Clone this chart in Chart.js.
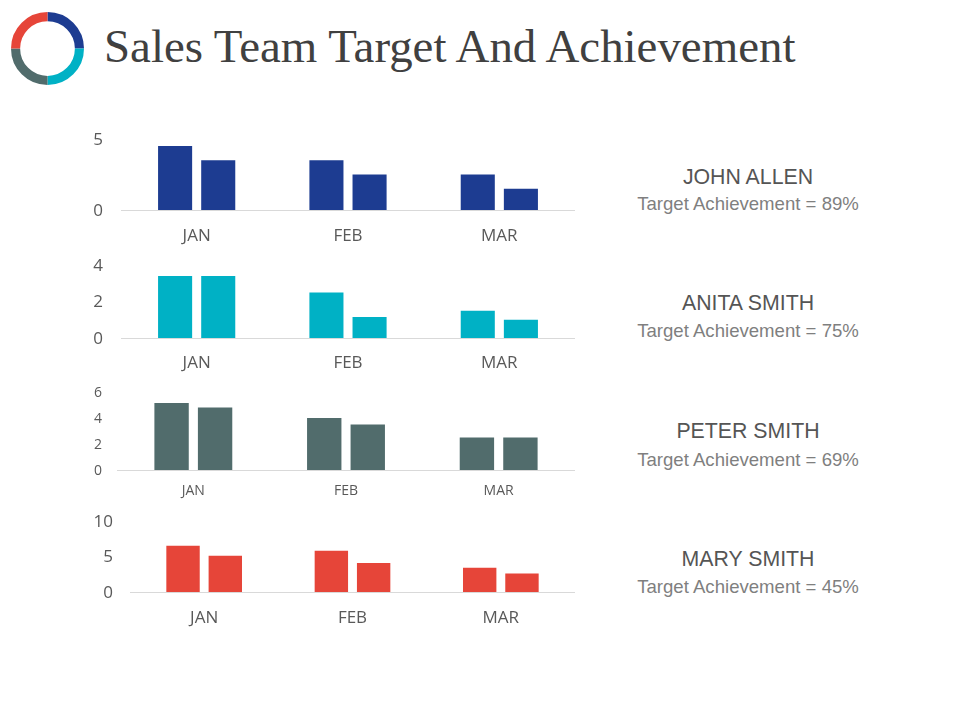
<!DOCTYPE html>
<html>
<head>
<meta charset="utf-8">
<title>Sales Team Target And Achievement</title>
<script src="https://cdn.jsdelivr.net/npm/chart.js@4"></script>
<style>
  html, body { margin: 0; padding: 0; background: #fff; overflow: hidden; }
  body { position: relative; width: 960px; height: 720px; }
  canvas { position: absolute; }
  h1 {
    position: absolute; left: 104px; top: 19px; margin: 0;
    font: normal 46.9px "Liberation Serif", serif; color: #404040; white-space: nowrap;
  }
  .name, .score {
    position: absolute; left: 598px; width: 300px; text-align: center;
    font-family: "Liberation Sans", sans-serif; white-space: nowrap;
  }
  .name { font-size: 21.3px; color: #555555; }
  .score { font-size: 18.6px; color: #7f7f7f; }
</style>
</head>
<body>
<h1>Sales Team Target And Achievement</h1>
<canvas id="logo" style="left:11px;top:12px;width:73px;height:73px" width="73" height="73"></canvas>
<canvas id="john"></canvas>
<canvas id="anita"></canvas>
<canvas id="peter"></canvas>
<canvas id="mary"></canvas>
<script>
var months = ['JAN', 'FEB', 'MAR'];

var johnA = [4.5, 3.5, 2.5];
var johnB = [3.5, 2.5, 1.5];
var anitaA = [3.4, 2.5, 1.5];
var anitaB = [3.4, 1.15, 1];
var peterA = [5.15, 4, 2.5];
var peterB = [4.8, 3.5, 2.5];
var maryA = [6.5, 5.8, 3.4];
var maryB = [5.1, 4.1, 2.6];

var logoShares = [1, 1, 1, 1];
var logoColors = ['#1d3c91', '#00b1c5', '#516c6c', '#e64539'];

var names = ['JOHN ALLEN', 'ANITA SMITH', 'PETER SMITH', 'MARY SMITH'];
var scores = ['Target Achievement = 89%', 'Target Achievement = 75%', 'Target Achievement = 69%', 'Target Achievement = 45%'];

Chart.defaults.font.family = '"Open Sans", sans-serif';
Chart.defaults.animation = false;
Chart.defaults.responsive = false;

var PAD_TOP = 14;
var CANVAS_LEFT = 60;
var RIGHT_EDGE = 575;

function addBars(id, a, b, color, o) {
  var canvas = document.getElementById(id);
  var top = o.top - PAD_TOP;
  var w = RIGHT_EDGE - CANVAS_LEFT;
  var h = o.base + o.below - top;
  canvas.style.left = CANVAS_LEFT + 'px';
  canvas.style.top = top + 'px';
  canvas.style.width = w + 'px';
  canvas.style.height = h + 'px';
  canvas.width = w;
  canvas.height = h;

  new Chart(canvas.getContext('2d'), {
    type: 'bar',
    data: {
      labels: months,
      datasets: [
        { data: a, backgroundColor: color },
        { data: b, backgroundColor: color }
      ]
    },
    options: {
      devicePixelRatio: 1,
      layout: { padding: { top: PAD_TOP, left: 0, right: 0, bottom: 0 } },
      plugins: { legend: { display: false }, tooltip: { enabled: false } },
      datasets: { bar: { categoryPercentage: 0.57, barPercentage: 0.79 } },
      scales: {
        x: {
          grid: { display: false, drawTicks: false },
          border: { display: true, color: '#d9d9d9', width: 1 },
          ticks: { color: '#595959', padding: o.xPad, maxRotation: 0, autoSkip: false, font: { size: o.xFont } },
          afterFit: function(axis) {
            axis.height = o.below;
            axis.paddingLeft = 0;
            axis.paddingRight = 0;
          }
        },
        y: {
          min: 0,
          max: o.max,
          grid: { display: false, drawTicks: false },
          border: { display: false },
          ticks: { stepSize: o.step, color: '#595959', padding: o.yPad, labelOffset: 1, font: { size: o.yFont } },
          afterFit: function(axis) {
            axis.width = o.left - CANVAS_LEFT;
            axis.paddingTop = 0;
            axis.paddingBottom = 0;
          }
        }
      }
    }
  });
}

addBars('john', johnA, johnB, logoColors[0], { top: 139, base: 210, below: 40, left: 121, max: 5, step: 5, xPad: 16, yPad: 18, xFont: 17, yFont: 17 });
addBars('anita', anitaA, anitaB, logoColors[1], { top: 265, base: 338, below: 38, left: 121, max: 4, step: 2, xPad: 15, yPad: 18, xFont: 17, yFont: 17 });
addBars('peter', peterA, peterB, logoColors[2], { top: 392, base: 470, below: 32, left: 117, max: 6, step: 2, xPad: 13, yPad: 15, xFont: 14, yFont: 14 });
addBars('mary', maryA, maryB, logoColors[3], { top: 521, base: 592, below: 40, left: 130, max: 10, step: 5, xPad: 16, yPad: 17, xFont: 17, yFont: 17 });

new Chart(document.getElementById('logo').getContext('2d'), {
  type: 'doughnut',
  data: { datasets: [{ data: logoShares, backgroundColor: logoColors, borderWidth: 0 }] },
  options: {
    devicePixelRatio: 1,
    cutout: '75%',
    plugins: { legend: { display: false }, tooltip: { enabled: false } }
  }
});

var nameTops = [165, 291, 419, 547];
var scoreTops = [193, 320, 449, 576];
names.forEach(function(text, i) {
  var n = document.createElement('div');
  n.className = 'name';
  n.style.top = nameTops[i] + 'px';
  n.textContent = text;
  document.body.appendChild(n);
  var s = document.createElement('div');
  s.className = 'score';
  s.style.top = scoreTops[i] + 'px';
  s.textContent = scores[i];
  document.body.appendChild(s);
});
</script>
</body>
</html>
